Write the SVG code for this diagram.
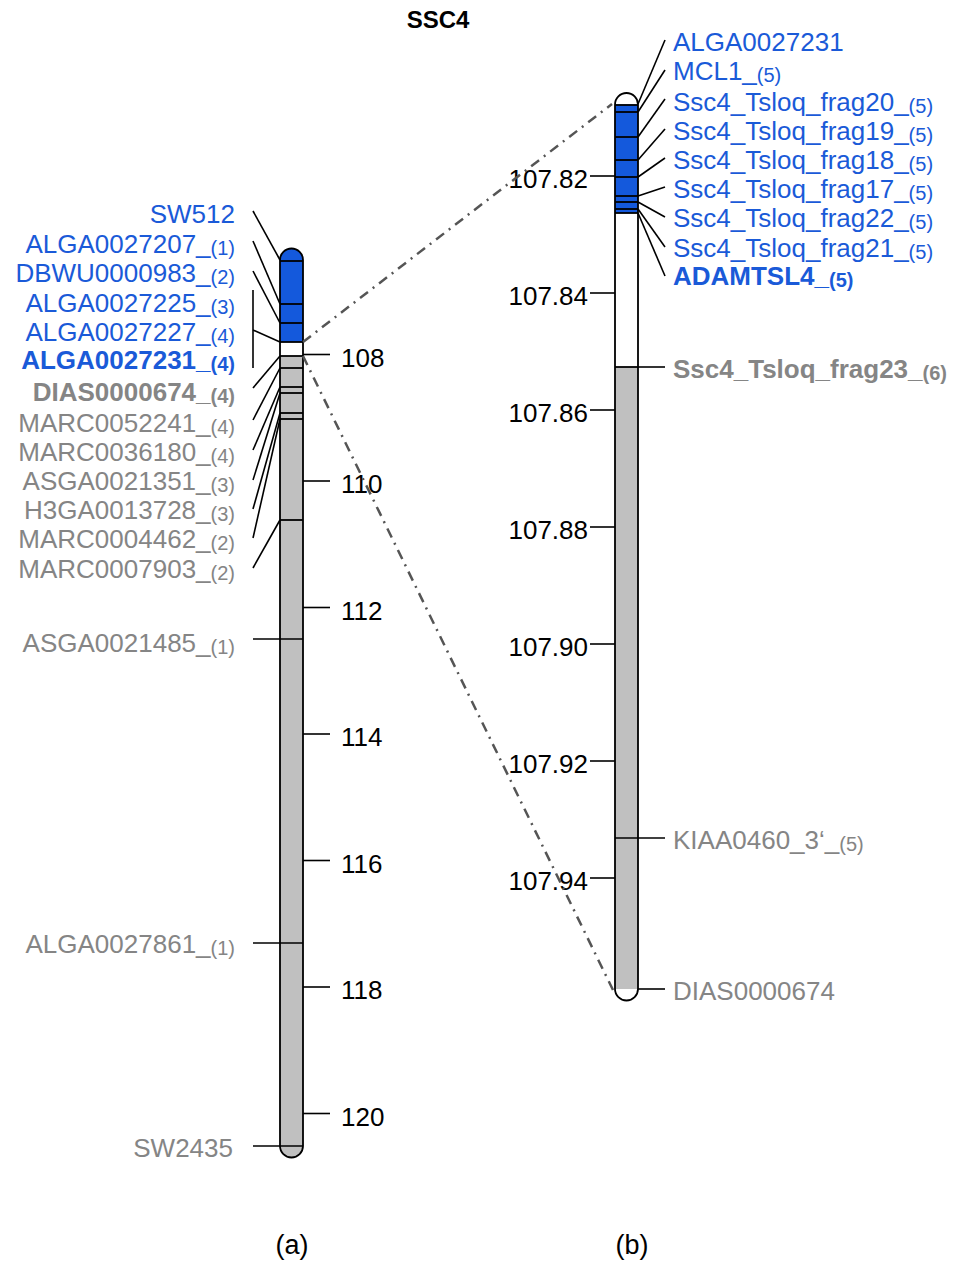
<svg xmlns="http://www.w3.org/2000/svg" width="966" height="1262" viewBox="0 0 966 1262">
<style>
text{font-family:"Liberation Sans",Arial,sans-serif;font-size:26px}
.b{fill:#1a5ad8}
.g{fill:#858585}
.k{fill:#000}
.bold{font-weight:bold}
.l{text-anchor:end}
.s{font-size:20px}
.t{font-size:25px}
.ln{stroke:#000;stroke-width:1.6;fill:none}
.band{stroke:#000;stroke-width:1.8}
.out{fill:none;stroke:#000;stroke-width:1.8}
.dd{stroke:#555;stroke-width:2.5;stroke-dasharray:10 6 2 6;fill:none}
</style>
<text x="438" y="28" class="k bold" text-anchor="middle" style="font-size:24px">SSC4</text>

<g id="chromosome-a">
<path d="M280,260 A11.5,11.5 0 0 1 303,260 L303,342 L280,342 Z" fill="#1459dc"/>
<rect x="280" y="342" width="23" height="14" fill="#fff"/>
<path d="M280,356 L303,356 L303,1146 A11.5,11.5 0 0 1 280,1146 Z" fill="#c0c0c0"/>
<g class="band">
<line x1="280" y1="261" x2="303" y2="261"/>
<line x1="280" y1="304" x2="303" y2="304"/>
<line x1="280" y1="323" x2="303" y2="323"/>
<line x1="280" y1="342" x2="303" y2="342"/>
<line x1="280" y1="356" x2="303" y2="356"/>
<line x1="280" y1="368" x2="303" y2="368"/>
<line x1="280" y1="387" x2="303" y2="387"/>
<line x1="280" y1="393" x2="303" y2="393"/>
<line x1="280" y1="413" x2="303" y2="413"/>
<line x1="280" y1="419" x2="303" y2="419"/>
<line x1="280" y1="520" x2="303" y2="520"/>
</g>
<path class="out" d="M280,260 A11.5,11.5 0 0 1 303,260 L303,1146 A11.5,11.5 0 0 1 280,1146 Z"/>
</g>

<g id="scale-a">
<g class="ln">
<line x1="303" y1="354.5" x2="330" y2="354.5"/>
<line x1="303" y1="481" x2="330" y2="481"/>
<line x1="303" y1="607.5" x2="330" y2="607.5"/>
<line x1="303" y1="734" x2="330" y2="734"/>
<line x1="303" y1="860.5" x2="330" y2="860.5"/>
<line x1="303" y1="987" x2="330" y2="987"/>
<line x1="303" y1="1113.5" x2="330" y2="1113.5"/>
</g>
<g class="k t">
<text x="341" y="367">108</text>
<text x="341" y="493">110</text>
<text x="341" y="620">112</text>
<text x="341" y="746">114</text>
<text x="341" y="873">116</text>
<text x="341" y="999">118</text>
<text x="341" y="1126">120</text>
</g>
</g>

<g id="labels-a">
<text x="235" y="223" class="b l">SW512</text>
<text x="235" y="253" class="b l">ALGA0027207_<tspan class="s" dy="2">(1)</tspan></text>
<text x="235" y="282" class="b l">DBWU0000983_<tspan class="s" dy="2">(2)</tspan></text>
<text x="235" y="312" class="b l">ALGA0027225_<tspan class="s" dy="2">(3)</tspan></text>
<text x="235" y="341" class="b l">ALGA0027227_<tspan class="s" dy="2">(4)</tspan></text>
<text x="235" y="369" class="b l bold">ALGA0027231_<tspan class="s" dy="2">(4)</tspan></text>
<text x="235" y="401" class="g l bold">DIAS0000674_<tspan class="s" dy="2">(4)</tspan></text>
<text x="235" y="432" class="g l">MARC0052241_<tspan class="s" dy="2">(4)</tspan></text>
<text x="235" y="461" class="g l">MARC0036180_<tspan class="s" dy="2">(4)</tspan></text>
<text x="235" y="490" class="g l">ASGA0021351_<tspan class="s" dy="2">(3)</tspan></text>
<text x="235" y="519" class="g l">H3GA0013728_<tspan class="s" dy="2">(3)</tspan></text>
<text x="235" y="548" class="g l">MARC0004462_<tspan class="s" dy="2">(2)</tspan></text>
<text x="235" y="578" class="g l">MARC0007903_<tspan class="s" dy="2">(2)</tspan></text>
<text x="235" y="652" class="g l">ASGA0021485_<tspan class="s" dy="2">(1)</tspan></text>
<text x="235" y="953" class="g l">ALGA0027861_<tspan class="s" dy="2">(1)</tspan></text>
<text x="233" y="1157" class="g l">SW2435</text>
</g>

<g id="chromosome-b">
<path d="M615,104.5 A11.5,11.5 0 0 1 638,104.5 Z" fill="#fff"/>
<rect x="615" y="104.5" width="23" height="108.5" fill="#1459dc"/>
<rect x="615" y="213" width="23" height="154" fill="#fff"/>
<rect x="615" y="367" width="23" height="622" fill="#c0c0c0"/>
<g class="band">
<line x1="615" y1="105" x2="638" y2="105"/>
<line x1="615" y1="112" x2="638" y2="112"/>
<line x1="615" y1="137" x2="638" y2="137"/>
<line x1="615" y1="160" x2="638" y2="160"/>
<line x1="615" y1="177" x2="638" y2="177"/>
<line x1="615" y1="196" x2="638" y2="196"/>
<line x1="615" y1="202" x2="638" y2="202"/>
<line x1="615" y1="209" x2="638" y2="209"/>
<line x1="615" y1="213" x2="638" y2="213"/>
<line x1="615" y1="367" x2="638" y2="367"/>
</g>
<path class="out" d="M615,104.5 A11.5,11.5 0 0 1 638,104.5 L638,989 A11.5,11.5 0 0 1 615,989 Z"/>
</g>

<g id="scale-b">
<g class="ln">
<line x1="590" y1="176" x2="615" y2="176"/>
<line x1="590" y1="293" x2="615" y2="293"/>
<line x1="590" y1="410" x2="615" y2="410"/>
<line x1="590" y1="527" x2="615" y2="527"/>
<line x1="590" y1="644" x2="615" y2="644"/>
<line x1="590" y1="761" x2="615" y2="761"/>
<line x1="590" y1="878" x2="615" y2="878"/>
</g>
<g class="k t" text-anchor="end">
<text x="588" y="188">107.82</text>
<text x="588" y="305">107.84</text>
<text x="588" y="422">107.86</text>
<text x="588" y="539">107.88</text>
<text x="588" y="656">107.90</text>
<text x="588" y="773">107.92</text>
<text x="588" y="890">107.94</text>
</g>
</g>

<g id="labels-b">
<text x="673" y="51" class="b">ALGA0027231</text>
<text x="673" y="80" class="b">MCL1_<tspan class="s" dy="2">(5)</tspan></text>
<text x="673" y="111" class="b">Ssc4_Tsloq_frag20_<tspan class="s" dy="2">(5)</tspan></text>
<text x="673" y="140" class="b">Ssc4_Tsloq_frag19_<tspan class="s" dy="2">(5)</tspan></text>
<text x="673" y="169" class="b">Ssc4_Tsloq_frag18_<tspan class="s" dy="2">(5)</tspan></text>
<text x="673" y="198" class="b">Ssc4_Tsloq_frag17_<tspan class="s" dy="2">(5)</tspan></text>
<text x="673" y="227" class="b">Ssc4_Tsloq_frag22_<tspan class="s" dy="2">(5)</tspan></text>
<text x="673" y="257" class="b">Ssc4_Tsloq_frag21_<tspan class="s" dy="2">(5)</tspan></text>
<text x="673" y="285" class="b bold">ADAMTSL4_<tspan class="s" dy="2">(5)</tspan></text>
<text x="673" y="378" class="g bold">Ssc4_Tsloq_frag23_<tspan class="s" dy="2">(6)</tspan></text>
<text x="673" y="849" class="g">KIAA0460_3‘_<tspan class="s" dy="2">(5)</tspan></text>
<text x="673" y="1000" class="g">DIAS0000674</text>
</g>

<g id="connectors">
<g class="ln">
<line x1="253" y1="211" x2="280" y2="260"/>
<line x1="253" y1="241" x2="280" y2="304"/>
<line x1="253" y1="271" x2="280" y2="323"/>
<line x1="253" y1="290" x2="253" y2="368"/>
<line x1="253" y1="330" x2="280" y2="342"/>
<line x1="253" y1="388" x2="280" y2="356"/>
<line x1="253" y1="420" x2="280" y2="368"/>
<line x1="253" y1="450" x2="280" y2="387"/>
<line x1="253" y1="480" x2="280" y2="393"/>
<line x1="253" y1="509" x2="280" y2="413"/>
<line x1="253" y1="538" x2="280" y2="419"/>
<line x1="253" y1="568" x2="280" y2="520"/>
<line x1="253" y1="639" x2="303" y2="639"/>
<line x1="253" y1="943" x2="303" y2="943"/>
<line x1="253" y1="1146" x2="303" y2="1146"/>
<line x1="638" y1="104" x2="665" y2="40"/>
<line x1="638" y1="112" x2="665" y2="70"/>
<line x1="638" y1="137" x2="665" y2="99"/>
<line x1="638" y1="160" x2="665" y2="129"/>
<line x1="638" y1="177" x2="665" y2="158"/>
<line x1="638" y1="196" x2="665" y2="187"/>
<line x1="638" y1="202" x2="665" y2="217"/>
<line x1="638" y1="209" x2="665" y2="247"/>
<line x1="638" y1="213" x2="665" y2="276"/>
<line x1="638" y1="367" x2="665" y2="367"/>
<line x1="615" y1="838" x2="665" y2="838"/>
<line x1="638" y1="989" x2="665" y2="989"/>
</g>
<line class="dd" x1="303" y1="342" x2="612" y2="104"/>
<line class="dd" x1="303" y1="356" x2="613" y2="990"/>
</g>

<text x="292" y="1254" class="k" text-anchor="middle" style="font-size:27px">(a)</text>
<text x="632" y="1254" class="k" text-anchor="middle" style="font-size:27px">(b)</text>
</svg>
